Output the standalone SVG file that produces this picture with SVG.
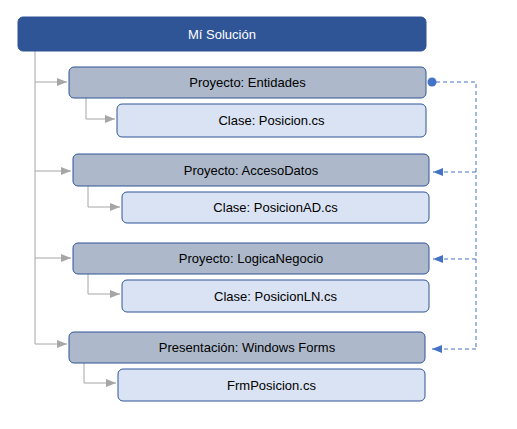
<svg xmlns="http://www.w3.org/2000/svg" width="517" height="429" viewBox="0 0 517 429">
<style>
.root{fill:#2F5597;stroke:#2F5597;stroke-width:1}
.proj{fill:#ADB9CA;stroke:#2F5597;stroke-width:1}
.cls{fill:#DAE3F3;stroke:#2F5597;stroke-width:1}
text{font-family:"Liberation Sans",Arial,sans-serif;font-size:13px;text-anchor:middle;dominant-baseline:central;fill:#000}
.wt{fill:#fff}
.tree{fill:none;stroke:#A6A6A6;stroke-width:1}
.dash{fill:none;stroke:#4472C4;stroke-width:1;stroke-dasharray:4,3}
</style>
<defs>
<marker id="ga" viewBox="0 0 10 10" refX="10" refY="5" markerWidth="10" markerHeight="10" markerUnits="userSpaceOnUse" orient="auto"><path d="M0,1 L10,5 L0,9 z" fill="#A6A6A6"/></marker>
<marker id="ba" viewBox="0 0 10 10" refX="10" refY="5" markerWidth="10" markerHeight="10" markerUnits="userSpaceOnUse" orient="auto"><path d="M0,1 L10,5 L0,9 z" fill="#4472C4"/></marker>
</defs>
<rect width="517" height="429" fill="#fff"/>
<g id="connectors">
<path class="tree" d="M35,51 V344"/>
<path class="tree" d="M35,82 H67" marker-end="url(#ga)"/>
<path class="tree" d="M35,171 H71" marker-end="url(#ga)"/>
<path class="tree" d="M35,258 H71" marker-end="url(#ga)"/>
<path class="tree" d="M35,344 H67" marker-end="url(#ga)"/>
<path class="tree" d="M86,98 V119 H115" marker-end="url(#ga)"/>
<path class="tree" d="M88,186 V207 H120" marker-end="url(#ga)"/>
<path class="tree" d="M88,274 V294 H120" marker-end="url(#ga)"/>
<path class="tree" d="M84,363 V383 H116" marker-end="url(#ga)"/>
<circle cx="432" cy="82" r="4.5" fill="#4472C4"/>
<path class="dash" d="M436,82 H476 V349"/>
<path class="dash" d="M476,172 H433" marker-end="url(#ba)"/>
<path class="dash" d="M476,259 H433" marker-end="url(#ba)"/>
<path class="dash" d="M476,349 H432" marker-end="url(#ba)"/>
</g>
<g id="root"><rect class="root" x="18" y="17" width="408" height="34" rx="5"/><text class="wt" x="222" y="34">Mí Solución</text></g>
<g id="entidades"><rect class="proj" x="69" y="67" width="357" height="31" rx="5"/><text x="247.5" y="82.5">Proyecto: Entidades</text></g>
<g id="posicion"><rect class="cls" x="117" y="104" width="309" height="33" rx="5"/><text x="271.5" y="120.5">Clase: Posicion.cs</text></g>
<g id="accesodatos"><rect class="proj" x="73" y="154" width="356" height="32" rx="5"/><text x="251" y="170">Proyecto: AccesoDatos</text></g>
<g id="posicionad"><rect class="cls" x="122" y="192" width="307" height="31" rx="5"/><text x="275.5" y="207.5">Clase: PosicionAD.cs</text></g>
<g id="logicanegocio"><rect class="proj" x="73" y="243" width="356" height="31" rx="5"/><text x="251" y="258.5">Proyecto: LogicaNegocio</text></g>
<g id="posicionln"><rect class="cls" x="122" y="280" width="307" height="32" rx="5"/><text x="275.5" y="296">Clase: PosicionLN.cs</text></g>
<g id="presentacion"><rect class="proj" x="69" y="332" width="356" height="31" rx="5"/><text x="247" y="347.5">Presentación: Windows Forms</text></g>
<g id="frmposicion"><rect class="cls" x="118" y="369" width="307" height="32" rx="5"/><text x="271.5" y="385">FrmPosicion.cs</text></g>
</svg>
